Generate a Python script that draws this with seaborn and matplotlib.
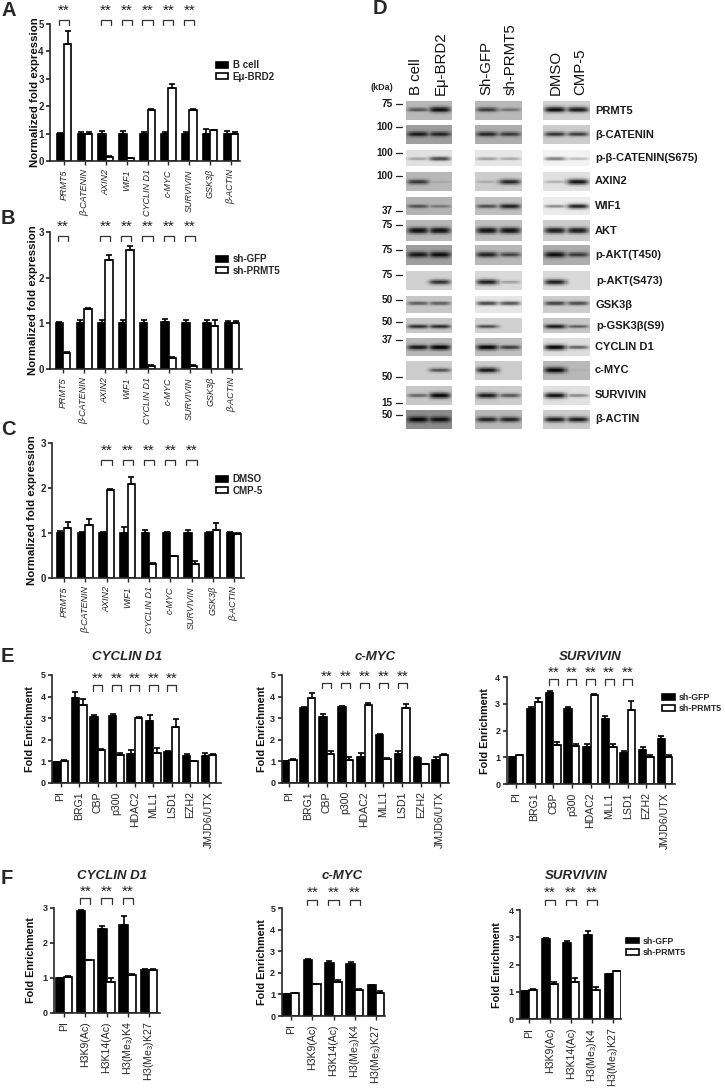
import numpy as np
import pandas as pd
import matplotlib
matplotlib.use("Agg")
import matplotlib.pyplot as plt
from matplotlib.transforms import blended_transform_factory
import seaborn as sns

W, H = 725, 1089
sns.set_theme(style="ticks")
plt.rcParams["font.family"] = ["Liberation Sans", "DejaVu Sans"]
plt.rcParams["mathtext.default"] = "regular"
plt.rcParams["axes.linewidth"] = 1.2

# ---------- data: panels A-C ----------
genes = ["PRMT5", "β-CATENIN", "AXIN2", "WIF1", "CYCLIN D1", "c-MYC", "SURVIVIN", "GSK3β", "β-ACTIN"]
a_black = [1, 1, 1, 1, 1, 1, 1, 1, 1]
a_black_err = [.03, .07, .09, .09, .07, .07, .07, .15, .08]
a_white = [4.27, 1.0, .15, .1, 1.87, 2.68, 1.85, 1.13, 1.0]
a_white_err = [.47, .06, .03, .02, .04, .13, .03, 0, .05]
b_black = [1, 1, 1, 1, 1, 1.03, 1, 1, 1]
b_black_err = [.03, .07, .07, .08, .07, .07, .08, .07, .05]
b_white = [.35, 1.32, 2.39, 2.6, .07, .25, .07, .95, 1.0]
b_white_err = [.02, .02, .1, .1, .01, .02, .01, .13, .06]
c_black = [1, 1, 1, 1, 1, 1, 1, 1, 1]
c_black_err = [.04, .02, .02, .13, .07, .03, .07, .02, .03]
c_white = [1.12, 1.18, 1.95, 2.08, .32, .48, .32, 1.07, .98]
c_white_err = [.13, .13, .02, .17, .02, .02, .06, .15, .03]

# ---------- data: panel E ----------
factors = ["PI", "BRG1", "CBP", "p300", "HDAC2", "MLL1", "LSD1", "EZH2", "JMJD6/UTX"]
e1_black = [.97, 3.95, 3.05, 3.1, 1.35, 2.87, 1.45, 1.25, 1.25]
e1_black_err = [.01, .25, .12, .08, .17, .28, .03, .08, .12]
e1_white = [1.03, 3.6, 1.55, 1.3, 3.0, 1.4, 2.6, 1.0, 1.3]
e1_white_err = [.02, .3, .04, .08, .06, .2, .37, .02, .05]
e2_black = [1.0, 3.47, 3.05, 3.5, 1.2, 2.2, 1.35, 1.15, 1.05]
e2_black_err = [.01, .05, .12, .08, .18, .08, .1, .05, .12]
e2_white = [1.05, 3.95, 1.35, 1.07, 3.6, 1.1, 3.47, .85, 1.3]
e2_white_err = [.03, .22, .1, .12, .12, .03, .2, .01, .05]
e3_black = [1.0, 2.8, 3.42, 2.8, 1.38, 2.42, 1.15, 1.28, 1.68]
e3_black_err = [.01, .1, .07, .07, .13, .12, .07, .1, .13]
e3_white = [1.08, 3.08, 1.47, 1.42, 3.32, 1.4, 2.78, 1.02, 1.0]
e3_white_err = [.02, .15, .12, .08, .07, .1, .33, .05, .07]

# ---------- data: panel F ----------
marks = ["PI", "H3K9(Ac)", "H3K14(Ac)", "H3(Me$_3$)K4", "H3(Me$_3$)K27"]
f1_black = [.98, 2.9, 2.4, 2.5, 1.22]
f1_black_err = [.01, .03, .08, .25, .02]
f1_white = [1.03, 1.5, .87, 1.08, 1.23]
f1_white_err = [.03, .01, .12, .02, .03]
f2_black = [1.0, 2.6, 2.47, 2.42, 1.42]
f2_black_err = [.01, .05, .1, .08, .01]
f2_white = [1.05, 1.47, 1.57, 1.2, 1.07]
f2_white_err = [.03, .03, .12, .07, .1]
f3_black = [1.03, 2.93, 2.78, 3.08, 1.65]
f3_black_err = [.01, .04, .07, .15, .02]
f3_white = [1.08, 1.28, 1.38, 1.08, 1.77]
f3_white_err = [.03, .08, .12, .12, .01]

# ---------- data: panel D (background, lane 1, lane 2 for each blot group) ----------
proteins = ["PRMT5", "β-CATENIN", "p-β-CATENIN(S675)", "AXIN2", "WIF1", "AKT", "p-AKT(T450)",
            "p-AKT(S473)", "GSK3β", "p-GSK3β(S9)", "CYCLIN D1", "c-MYC", "SURVIVIN", "β-ACTIN"]
group1 = [(.72, .55, .95), (.62, .85, .8), (.88, .3, .7), (.72, .75, .12), (.7, .55, .35), (.72, .95, .95),
          (.62, .9, .95), (.82, 0, .8), (.78, .55, .55), (.78, .8, .8), (.72, .9, 1), (.8, 0, .6), (.78, .5, 1), (.55, 1, .95)]
group2 = [(.72, .7, .4), (.68, .8, .7), (.9, .35, .3), (.8, .2, .85), (.75, .6, .85), (.75, .95, .95),
          (.72, .85, .65), (.85, .9, .3), (.9, .7, .65), (.82, .65, 0), (.75, 1, .7), (.8, .9, 0), (.8, .9, .6), (.72, .85, .85)]
group3 = [(.82, .95, .9), (.8, .75, .7), (.95, .5, .25), (.88, .25, .95), (.92, .4, .85), (.8, .9, .9),
          (.68, .95, .7), (.85, .9, 0), (.8, .7, .65), (.78, .9, .55), (.87, 1, .55), (.72, 1, .05), (.88, .95, .4), (.8, .9, .9)]
kda_labels = ["75", "100", "100", "100", "37", "75", "75", "75", "50", "50", "37", "50", "15", "50"]
lane_names = ["B cell", "Eμ-BRD2", "Sh-GFP", "sh-PRMT5", "DMSO", "CMP-5"]

# ---------- layout (pixels) ----------
row_tops = [101, 125, 150, 172, 197, 220, 245, 271, 296, 318, 338, 361, 386, 410]
row_bots = [120, 144, 166, 191, 215, 241, 265, 290, 313, 333, 356, 380, 405, 429]
band_y = [.45, .48, .55, .52, .52, .5, .48, .58, .42, .55, .52, .48, .5, .5]
kda_y = [104, 127, 153, 176, 211, 225, 250, 275, 300, 322, 340, 377, 403, 415]
group_x = [(406, 452), (475, 522), (543, 590)]
label_x = [595, 595, 595, 595, 595, 595, 595, 596, 596, 596, 595, 595, 595, 595]
lane_x = [416, 441, 486, 511, 556, 580]

fig = plt.figure(figsize=(W / 100, H / 100), dpi=100)


def fx(x):
    return x / W


def fy(y):
    return 1 - y / H


def txt(x, y, s, **kw):
    return fig.text(fx(x), fy(y), s, **kw)


def panel(cats, black, berr, white, werr, names, ymax, yt, box, c0, cN, width, sig, br, star,
          ylab, ylab_x, ylab_size, xsize, xstyle, leg=None, legsize=7, ysize=7):
    x0, ytop, x1, ybot = box
    ax = fig.add_axes([fx(x0), fy(ybot), (x1 - x0) / W, (ybot - ytop) / H])
    n = len(cats)
    df = pd.DataFrame({"cat": cats * 2, "val": list(black) + list(white),
                       "grp": [names[0]] * n + [names[1]] * n})
    sns.barplot(data=df, x="cat", y="val", hue="grp", palette=["black", "white"], width=width, gap=0,
                edgecolor="black", linewidth=1.2, errorbar=None, ax=ax, legend=bool(leg))
    for cont, err in zip(ax.containers, (berr, werr)):
        xs = [p.get_x() + p.get_width() / 2 for p in cont]
        hs = [p.get_height() for p in cont]
        ax.errorbar(xs, hs, yerr=[[0] * n, err], fmt="none", ecolor="black", elinewidth=1.2,
                    capsize=2, capthick=1.2, clip_on=False)
    dpp = (n - 1) / (cN - c0)
    ax.set_xlim(-(c0 - x0) * dpp, (n - 1) + (x1 - cN) * dpp)
    ax.set_ylim(0, ymax)
    ax.set_yticks(yt)
    ax.set_xlabel("")
    ax.set_ylabel("")
    ax.set_xticks(range(n))
    ax.set_xticklabels(cats, rotation=90, fontsize=xsize, style=xstyle)
    ax.tick_params(axis="y", labelsize=ysize, length=3, width=1.2, pad=1.5)
    ax.tick_params(axis="x", length=3, width=1.0, pad=3)
    for t in ax.get_yticklabels():
        t.set_fontweight("bold")
    sns.despine(ax=ax)
    tr = blended_transform_factory(ax.transData, fig.transFigure)
    for i in sig:
        ax.plot([i - .24, i - .24, i + .24, i + .24], [fy(br[1]), fy(br[0]), fy(br[0]), fy(br[1])],
                transform=tr, color="#333333", lw=0.9, clip_on=False)
        ax.text(i, fy(star), "**", transform=tr, ha="center", va="center", fontsize=11, color="#222222")
    txt(ylab_x, (ytop + ybot) / 2, ylab, rotation=90, ha="center", va="center",
        fontsize=ylab_size, weight="bold", color="#111111")
    if leg:
        h, l = ax.get_legend_handles_labels()
        ax.legend(h, l, loc="center left", bbox_to_anchor=(fx(leg[0]), fy(leg[1])),
                  bbox_transform=fig.transFigure, frameon=False, handlelength=leg[2], handleheight=.6,
                  borderpad=0, borderaxespad=0, handletextpad=.45, labelspacing=leg[3],
                  prop={"size": legsize, "weight": "bold"})
    return ax


nrm = "Normalized fold expression"
fe = "Fold Enrichment"
panel(genes, a_black, a_black_err, a_white, a_white_err, ["B cell", "Eμ-BRD2"], 5, range(6), (50, 24, 240, 161),
      64, 231, .7, [0, 2, 3, 4, 5, 6], (19.5, 25), 10.5, nrm, 35, 8.2, 6.5, "italic", leg=(216, 71, 1.25, .15))
panel(genes, b_black, b_black_err, b_white, b_white_err, ["sh-GFP", "sh-PRMT5"], 3, range(4), (50, 232, 242, 369),
      63, 232, .7, [0, 2, 3, 4, 5, 6], (236, 241), 227, nrm, 33, 8.2, 6.5, "italic", leg=(216, 265, 1.25, .15))
panel(genes, c_black, c_black_err, c_white, c_white_err, ["DMSO", "CMP-5"], 3, range(4), (52, 443, 244, 578),
      64, 234, .7, [2, 3, 4, 5, 6], (460, 465), 451, nrm, 32, 8.2, 6.5, "italic", leg=(216, 485, 1.25, .15))

E_names = ["sh-GFP", "sh-PRMT5"]
panel(factors, e1_black, e1_black_err, e1_white, e1_white_err, E_names, 5, range(6), (52, 675, 221, 783),
      60.6, 209, .8, [2, 3, 4, 5, 6], (685, 690.7), 679, fe, 30, 7.8, 7.6, "normal", ysize=6.5)
panel(factors, e2_black, e2_black_err, e2_white, e2_white_err, E_names, 5, range(6), (281.5, 675, 449, 782.7),
      289, 440, .8, [2, 3, 4, 5, 6], (682.7, 688), 676.7, fe, 262, 7.8, 7.6, "normal", ysize=6.5)
panel(factors, e3_black, e3_black_err, e3_white, e3_white_err, E_names, 4, range(5), (506.5, 677.3, 675, 784),
      516, 665, .8, [2, 3, 4, 5, 6], (679.3, 684.7), 672.7, fe, 485, 7.8, 7.6, "normal",
      leg=(662, 703, 1.45, .2), legsize=6.3, ysize=6.5)

panel(marks, f1_black, f1_black_err, f1_white, f1_white_err, E_names, 3, range(4), (54, 907.7, 160, 1012.7),
      64, 149, .78, [1, 2, 3], (898, 904), 892, fe, 31, 7.8, 7.6, "normal", ysize=6.5)
panel(marks, f2_black, f2_black_err, f2_white, f2_white_err, E_names, 5, range(6), (281.5, 908.3, 385, 1016),
      291, 376, .78, [1, 2, 3], (900, 905), 893, fe, 262, 7.8, 7.6, "normal", ysize=6.5)
panel(marks, f3_black, f3_black_err, f3_white, f3_white_err, E_names, 4, range(5), (520, 910, 621, 1019.3),
      529, 613, .78, [1, 2, 3], (899.5, 905), 893, fe, 497, 7.8, 7.6, "normal",
      leg=(626, 947, 1.45, .3), legsize=6.3, ysize=6.5)

for name, x in zip(["CYCLIN D1", "c-MYC", "SURVIVIN"], [127, 375, 590]):
    txt(x, 657, name, ha="center", va="center", fontsize=9.5, style="italic", weight="bold")
for name, x in zip(["CYCLIN D1", "c-MYC", "SURVIVIN"], [112.5, 342.6, 576]):
    txt(x, 876, name, ha="center", va="center", fontsize=9.5, style="italic", weight="bold")

for s, x, y in [("A", 1, 10), ("B", 1, 219), ("C", 1, 430), ("D", 373, 9), ("E", 1, 657), ("F", 1, 878)]:
    txt(x, y, s, ha="left", va="center", fontsize=14.5, weight="bold")

# ---------- panel D: blots ----------
yy = np.linspace(0, 1, 30)
xx = np.linspace(0, 1, 46)
for (gx0, gx1), grp in zip(group_x, (group1, group2, group3)):
    for r, (bg, l1, l2) in enumerate(grp):
        img = np.zeros((yy.size, xx.size))
        for c, lane in ((.26, l1), (.74, l2)):
            sig_y = .05 + .11 * lane
            band = np.exp(-((yy[:, None] - band_y[r]) / sig_y) ** 2) * np.exp(-np.abs((xx[None, :] - c) / .24) ** 4)
            img = np.maximum(img, band * lane)
        img = bg * (1 - .97 * img)
        ax = fig.add_axes([fx(gx0), fy(row_bots[r]), (gx1 - gx0) / W, (row_bots[r] - row_tops[r]) / H])
        sns.heatmap(img, ax=ax, cmap="gray", vmin=0, vmax=1, cbar=False, xticklabels=False, yticklabels=False)

overlay = fig.add_axes([0, 0, 1, 1], facecolor="none")
overlay.set_xlim(0, W)
overlay.set_ylim(H, 0)
overlay.axis("off")
for r, p in enumerate(proteins):
    txt(label_x[r], (row_tops[r] + row_bots[r]) / 2, p, ha="left", va="center", fontsize=8, weight="bold", color="#1a1a1a")
    txt(393, kda_y[r], kda_labels[r], ha="right", va="center", fontsize=7.2, weight="bold", color="#1a1a1a")
    overlay.plot([396, 402.5], [kda_y[r], kda_y[r]], color="#222222", lw=0.9)
for s, x in zip(lane_names, lane_x):
    txt(x, 95, s, rotation=90, ha="center", va="bottom", fontsize=10.8, color="#111111")
txt(382, 88, "(kDa)", ha="center", va="center", fontsize=6.5, weight="bold")

fig.savefig("out.png", dpi=100, facecolor="white")
